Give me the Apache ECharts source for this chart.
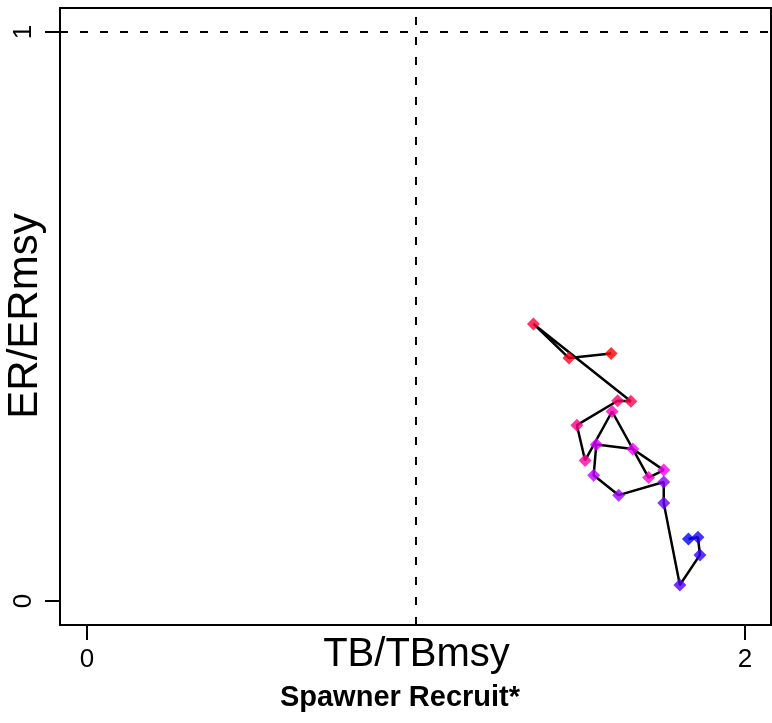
<!DOCTYPE html>
<html>
<head>
<meta charset="utf-8">
<script src="https://cdn.jsdelivr.net/npm/echarts@6/dist/echarts.min.js"></script>
<style>
html,body{margin:0;padding:0;background:#fff;}
#chart{width:772px;height:723px;}
</style>
</head>
<body>
<div id="chart"></div>
<script>
// Data (chronological path order)
var tbRatio = [1.593, 1.465, 1.357, 1.653, 1.613, 1.489, 1.514, 1.596, 1.707, 1.753,
               1.659, 1.548, 1.540, 1.616, 1.753, 1.753, 1.802, 1.863, 1.857, 1.828];
var erRatio = [0.435, 0.427, 0.487, 0.351, 0.352, 0.309, 0.247, 0.333, 0.217, 0.230,
               0.267, 0.275, 0.221, 0.186, 0.209, 0.172, 0.028, 0.081, 0.112, 0.109];
var pointColors = ['#FF0000','#FF001B','#FF0036','#FF0050','#FF006B','#FF0086','#FF00A1','#FF00BC','#FF00D7','#FF00F2',
                   '#F200FF','#D700FF','#BC00FF','#A100FF','#8600FF','#6B00FF','#5000FF','#3600FF','#1B00FF','#0000FF'];
var xTicks = [0, 2];
var yTicks = [0, 1];
var refX = 1, refY = 1;

var pts = tbRatio.map(function (x, i) { return [x, erRatio[i]]; });
var scatterData = pts.map(function (p, i) {
  return { value: p, itemStyle: { color: pointColors[i] } };
});

var FONT = "'Liberation Sans', Arial, Helvetica, sans-serif";
var chart = echarts.init(document.getElementById('chart'), null, { renderer: 'canvas' });
chart.setOption({
  animation: false,
  backgroundColor: '#fff',
  grid: {
    left: 60, top: 8, right: 1, bottom: 98,
    show: true, borderColor: '#000', borderWidth: 2, backgroundColor: 'transparent',
    containLabel: false
  },
  xAxis: {
    type: 'value',
    min: -0.0821, max: 2.079,
    position: 'bottom',
    axisLine: { show: false, onZero: false },
    splitLine: { show: false },
    axisTick: { show: true, customValues: xTicks, length: 15, lineStyle: { color: '#000', width: 2 } },
    axisLabel: { show: true, customValues: xTicks, margin: 22, color: '#000', fontSize: 26, fontFamily: FONT,
                 showMinLabel: true, showMaxLabel: true }
  },
  yAxis: {
    type: 'value',
    min: -0.0422, max: 1.0422,
    position: 'left',
    axisLine: { show: false, onZero: false },
    splitLine: { show: false },
    axisTick: { show: true, customValues: yTicks, length: 15, lineStyle: { color: '#000', width: 2 } },
    axisLabel: { show: true, customValues: yTicks, rotate: 90, margin: 23, color: '#000', fontSize: 26, fontFamily: FONT,
                 showMinLabel: true, showMaxLabel: true }
  },
  graphic: [
    { type: 'text', x: 416.5, y: 655, z: 10,
      style: { text: 'TB/TBmsy', fill: '#000', font: '40px ' + FONT, textAlign: 'center', textVerticalAlign: 'middle' } },
    { type: 'text', x: 400, y: 698, z: 10,
      style: { text: 'Spawner Recruit*', fill: '#000', font: 'bold 29px ' + FONT, textAlign: 'center', textVerticalAlign: 'middle' } },
    { type: 'text', x: 25, y: 316, rotation: Math.PI / 2, z: 10,
      style: { text: 'ER/ERmsy', fill: '#000', font: '42px ' + FONT, textAlign: 'center', textVerticalAlign: 'middle' } }
  ],
  series: [
    {
      type: 'line',
      data: pts,
      showSymbol: false,
      symbol: 'none',
      lineStyle: { color: '#000', width: 2.5 },
      z: 2,
      silent: true,
      markLine: {
        silent: true,
        symbol: ['none', 'none'],
        label: { show: false },
        lineStyle: { color: '#000', width: 2, type: [8, 12] },
        data: [{ xAxis: refX }, { yAxis: refY }]
      }
    },
    {
      type: 'scatter',
      data: scatterData,
      symbol: 'diamond',
      symbolSize: 13,
      z: 3,
      silent: true
    }
  ]
});
</script>
</body>
</html>
